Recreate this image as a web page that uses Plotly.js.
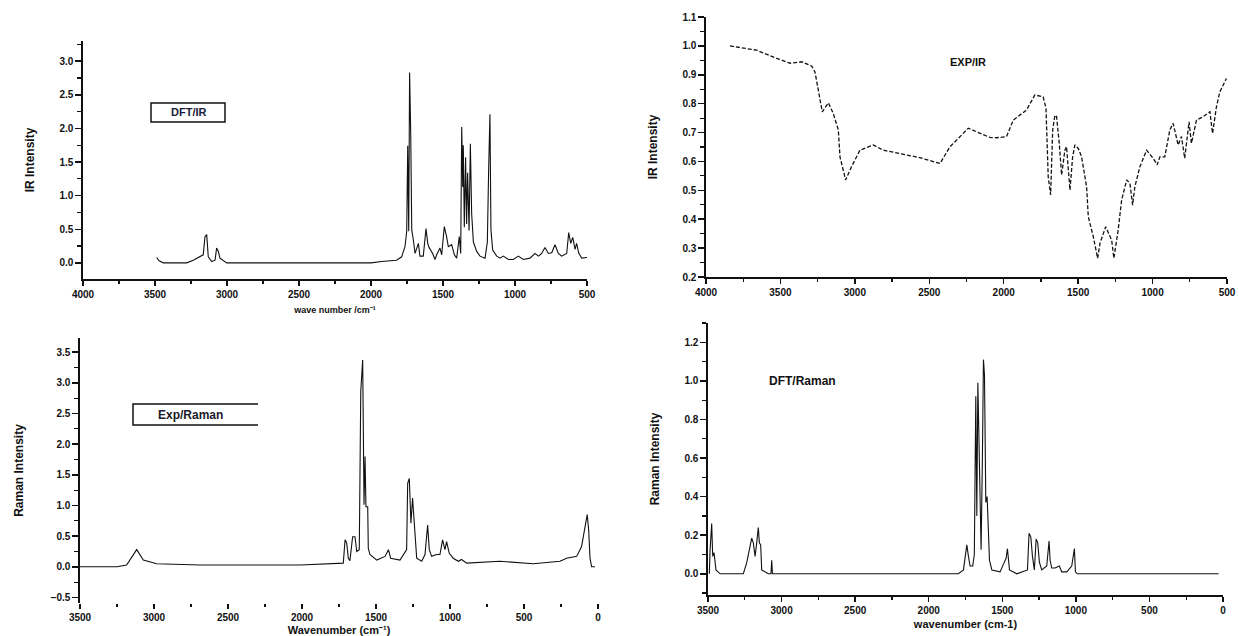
<!DOCTYPE html>
<html>
<head>
<meta charset="utf-8">
<script src="https://cdn.plot.ly/plotly-3.0.1.min.js"></script>
<style>html,body{margin:0;padding:0;background:#fff;}#chart{width:1239px;height:636px;}</style>
</head>
<body>
<div id="chart"></div>
<script>
// ---- DFT / IR (top-left) ----
const dftIrWn = [3488,3472,3442,3280,3234,3188,3165,3153,3141,3130,3106,3083,3072,3060,3049,3002,2500,2000,1926,1822,1787,1764,1752,1745,1738,1732,1724,1717,1706,1694,1671,1660,1637,1618,1606,1597,1572,1556,1544,1521,1509,1491,1475,1463,1440,1421,1405,1387,1377,1370,1363,1359,1352,1343,1336,1329,1319,1310,1301,1289,1266,1243,1208,1192,1183,1174,1167,1155,1127,1104,1081,1046,1012,977,942,896,861,837,815,792,768,745,722,699,676,641,627,613,599,583,572,558,537,514,498];
const dftIrInt = [0.08,0.03,0.0,0.0,0.04,0.09,0.12,0.39,0.42,0.09,0.02,0.04,0.22,0.17,0.07,0.0,0.0,0.0,0.02,0.04,0.09,0.24,0.47,1.74,0.47,2.83,1.91,0.49,0.34,0.14,0.29,0.1,0.1,0.51,0.29,0.23,0.14,0.05,0.12,0.22,0.12,0.54,0.39,0.24,0.27,0.12,0.07,0.39,0.14,2.02,1.13,1.75,0.53,1.57,0.58,1.34,0.48,1.77,0.73,0.31,0.17,0.1,0.07,0.31,1.39,2.21,0.49,0.19,0.1,0.07,0.1,0.05,0.05,0.1,0.05,0.07,0.14,0.1,0.14,0.23,0.14,0.15,0.27,0.14,0.1,0.14,0.45,0.29,0.38,0.2,0.29,0.15,0.07,0.07,0.08];

// ---- EXP / IR (top-right) ----
const expIrWn = [3839,3727,3660,3525,3436,3357,3290,3268,3245,3234,3219,3178,3145,3111,3100,3062,3022,2966,2876,2809,2675,2563,2428,2361,2238,2093,2048,1981,1936,1847,1791,1735,1716,1701,1685,1671,1656,1645,1627,1611,1589,1578,1555,1537,1522,1499,1477,1443,1432,1398,1369,1353,1315,1275,1260,1231,1208,1174,1152,1134,1119,1085,1040,996,969,951,918,884,862,828,806,784,755,739,705,660,615,597,571,548,504];
const expIrInt = [1.0,0.99,0.985,0.957,0.94,0.945,0.93,0.91,0.847,0.807,0.772,0.803,0.766,0.709,0.616,0.536,0.582,0.639,0.657,0.639,0.626,0.613,0.593,0.651,0.715,0.683,0.682,0.686,0.743,0.778,0.83,0.824,0.784,0.547,0.484,0.709,0.76,0.755,0.663,0.553,0.639,0.651,0.501,0.616,0.657,0.645,0.616,0.512,0.409,0.339,0.265,0.317,0.374,0.328,0.265,0.363,0.466,0.536,0.524,0.449,0.512,0.582,0.639,0.611,0.588,0.616,0.616,0.709,0.732,0.657,0.686,0.611,0.737,0.663,0.743,0.755,0.772,0.697,0.789,0.841,0.887];

// ---- EXP / Raman (bottom-left) ----
const expRamanWn = [3500,3250,3185,3117,3072,2982,2689,2466,2014,1721,1709,1698,1687,1676,1658,1642,1630,1613,1603,1590,1581,1574,1568,1556,1552,1541,1495,1439,1416,1401,1338,1293,1286,1275,1264,1253,1236,1225,1191,1169,1151,1140,1124,1090,1068,1050,1034,1023,1005,978,944,922,887,662,437,257,212,144,111,89,73,63,54,43,20];
const expRamanInt = [0.0,0.0,0.03,0.28,0.11,0.05,0.03,0.03,0.03,0.06,0.44,0.39,0.14,0.1,0.49,0.49,0.25,0.28,2.86,3.37,1.01,1.8,0.98,0.98,0.3,0.2,0.11,0.17,0.28,0.14,0.11,0.28,1.36,1.44,0.71,1.12,0.6,0.14,0.09,0.2,0.68,0.28,0.17,0.2,0.2,0.44,0.28,0.41,0.22,0.14,0.09,0.12,0.06,0.09,0.05,0.09,0.14,0.17,0.33,0.66,0.85,0.6,0.14,0.0,0.0];

// ---- DFT / Raman (bottom-right) ----
const dftRamanWn = [3491,3486,3475,3468,3459,3446,3418,3260,3237,3219,3203,3192,3180,3169,3158,3151,3142,3135,3090,3072,3067,3062,3040,1798,1764,1753,1741,1730,1719,1701,1690,1680,1673,1666,1657,1651,1644,1635,1628,1621,1612,1603,1594,1587,1571,1515,1492,1474,1465,1451,1401,1356,1329,1318,1306,1295,1282,1270,1259,1248,1232,1198,1182,1175,1164,1141,1112,1096,1062,1028,1017,1010,1003,990,30];
const dftRamanInt = [0.0,0.12,0.26,0.09,0.11,0.02,0.0,0.0,0.056,0.125,0.185,0.16,0.09,0.16,0.24,0.16,0.15,0.02,0.0,0.0,0.07,0.0,0.0,0.0,0.02,0.09,0.15,0.09,0.04,0.04,0.1,0.92,0.3,0.99,0.56,0.26,0.125,0.61,1.11,1.03,0.37,0.4,0.13,0.07,0.02,0.01,0.05,0.08,0.13,0.02,0.0,0.01,0.02,0.21,0.19,0.09,0.02,0.18,0.16,0.06,0.02,0.04,0.17,0.07,0.03,0.03,0.04,0.01,0.01,0.04,0.09,0.13,0.01,0.0,0.0];

const W = 1239, H = 636;
const px = v => v / W;
const py = v => 1 - v / H;

const FAM = 'Liberation Sans, Arial, sans-serif';
const tickFont = {family: FAM, size: 10, color: '#111', weight: 'bold'};
const titleFont = {family: FAM, size: 12, color: '#111', weight: 'bold'};

function xax(domain, range, minor, extra) {
  return Object.assign({
    domain: domain, range: range, showline: true, linecolor: '#111', linewidth: 1.6,
    ticks: 'outside', ticklen: 5, tickwidth: 1.5, tickcolor: '#111', dtick: 500,
    minor: {ticks: 'outside', ticklen: 3, tickwidth: 1.2, tickcolor: '#111', dtick: minor},
    showgrid: false, zeroline: false, tickfont: tickFont
  }, extra || {});
}
function yax(domain, range, dtick, minor, fmt, extra) {
  return Object.assign({
    domain: domain, range: range, showline: true, linecolor: '#111', linewidth: 1.6,
    ticks: 'outside', ticklen: 6, tickwidth: 1.5, tickcolor: '#111', dtick: dtick,
    minor: {ticks: 'outside', ticklen: 4, tickwidth: 1.2, tickcolor: '#111', dtick: minor},
    showgrid: false, zeroline: false, tickfont: tickFont, tickformat: fmt
  }, extra || {});
}

const lineStyle = {color: '#111', width: 1.1};

const data = [
  {x: dftIrWn, y: dftIrInt, type: 'scatter', mode: 'lines', line: lineStyle, xaxis: 'x', yaxis: 'y'},
  {x: expIrWn, y: expIrInt, type: 'scatter', mode: 'lines', line: {color: '#111', width: 1.3, dash: '4px,2px'}, xaxis: 'x2', yaxis: 'y2'},
  {x: expRamanWn, y: expRamanInt, type: 'scatter', mode: 'lines', line: lineStyle, xaxis: 'x3', yaxis: 'y3'},
  {x: dftRamanWn, y: dftRamanInt, type: 'scatter', mode: 'lines', line: lineStyle, xaxis: 'x4', yaxis: 'y4'}
];

const layout = {
  width: W, height: H, margin: {l: 0, r: 0, t: 0, b: 0},
  paper_bgcolor: '#fff', plot_bgcolor: 'rgba(0,0,0,0)', showlegend: false,
  font: {family: FAM, color: '#111'},
  xaxis: xax([px(83), px(587)], [4000, 500], 250, {anchor: 'y',
    title: {text: 'wave number /cm\u207B\u00B9', font: {family: FAM, size: 9, color: '#111', weight: 'bold'}, standoff: 8}}),
  yaxis: yax([py(279), py(41)], [-0.24, 3.3], 0.5, 0.25, '.1f', {anchor: 'x',
    title: {text: 'IR Intensity', font: titleFont, standoff: 22}}),
  xaxis2: xax([px(706), px(1227)], [4000, 500], 250, {anchor: 'y2'}),
  yaxis2: yax([py(277), py(17)], [0.2, 1.1], 0.1, 0.05, '.1f', {anchor: 'x2',
    title: {text: 'IR Intensity', font: titleFont, standoff: 22}}),
  xaxis3: xax([px(80), px(598)], [3500, 0], 250, {anchor: 'y3', showline: false,
    title: {text: 'Wavenumber (cm\u207B\u00B9)', font: {family: FAM, size: 11, color: '#111', weight: 'bold'}, standoff: 8}}),
  yaxis3: yax([py(603), py(338)], [-0.59, 3.73], 0.5, 0.25, '.1f', {anchor: 'x3',
    title: {text: 'Raman Intensity', font: titleFont, standoff: 24}}),
  xaxis4: xax([px(708), px(1223)], [3500, 0], 250, {anchor: 'y4',
    title: {text: 'wavenumber (cm-1)', font: {family: FAM, size: 11, color: '#111', weight: 'bold'}, standoff: 6}}),
  yaxis4: yax([py(595), py(323)], [-0.11, 1.30], 0.2, 0.1, '.1f', {anchor: 'x4',
    title: {text: 'Raman Intensity', font: titleFont, standoff: 22}}),
  shapes: [
    {type: 'rect', xref: 'paper', yref: 'paper', x0: px(151), x1: px(225), y0: py(122), y1: py(103), line: {color: '#111', width: 1.5}},
    {type: 'path', xref: 'paper', yref: 'paper',
      path: 'M ' + px(258) + ' ' + py(404) + ' L ' + px(133) + ' ' + py(404) + ' L ' + px(133) + ' ' + py(425) + ' L ' + px(258) + ' ' + py(425),
      line: {color: '#111', width: 1.5}}
  ],
  annotations: [
    {xref: 'paper', yref: 'paper', x: px(188), y: py(112.5), xanchor: 'center', yanchor: 'middle', text: 'DFT/IR', showarrow: false,
      font: {family: FAM, size: 11, color: '#1a1a3a', weight: 'bold'}},
    {xref: 'paper', yref: 'paper', x: px(968), y: py(62), xanchor: 'center', yanchor: 'middle', text: 'EXP/IR', showarrow: false,
      font: {family: FAM, size: 11, color: '#111', weight: 'bold'}},
    {xref: 'paper', yref: 'paper', x: px(190), y: py(414.5), xanchor: 'center', yanchor: 'middle', text: 'Exp/Raman', showarrow: false,
      font: {family: FAM, size: 12, color: '#1a1a2a', weight: 'bold'}},
    {xref: 'paper', yref: 'paper', x: px(802), y: py(381), xanchor: 'center', yanchor: 'middle', text: 'DFT/Raman', showarrow: false,
      font: {family: FAM, size: 12, color: '#111', weight: 'bold'}}
  ]
};

Plotly.newPlot('chart', data, layout, {staticPlot: true, displayModeBar: false});
</script>
</body>
</html>
